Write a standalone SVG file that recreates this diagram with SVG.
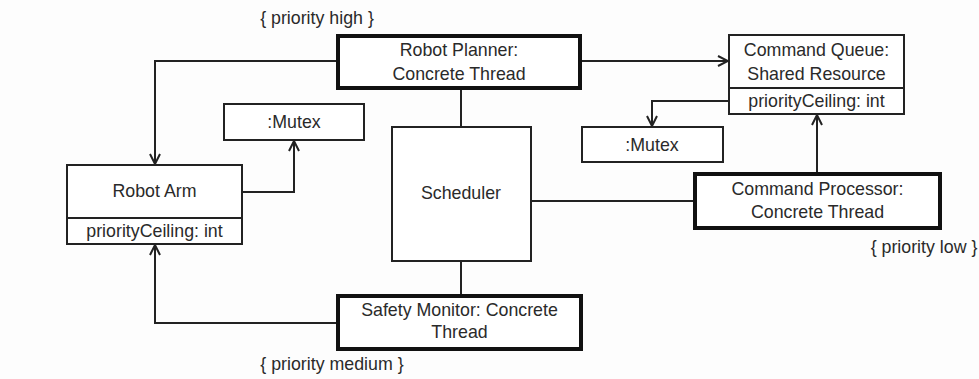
<svg xmlns="http://www.w3.org/2000/svg" width="979" height="379" viewBox="0 0 979 379">
<defs>
<style>
text{font-family:"Liberation Sans",Arial,sans-serif;font-size:17.8px;fill:#2a2a2a;text-anchor:middle}
.box{fill:#fff;stroke:#222;stroke-width:2}
.thick{fill:#fff;stroke:#111;stroke-width:4}
.conn{fill:none;stroke:#222;stroke-width:2}
</style>
<marker id="arr" viewBox="0 0 12 12" refX="11" refY="6" markerWidth="12" markerHeight="12" markerUnits="userSpaceOnUse" orient="auto">
<path d="M1,1 L11,6 L1,11" fill="none" stroke="#222" stroke-width="2"/>
</marker>
</defs>
<rect width="979" height="379" fill="#fdfdfd"/>
<g id="connectors">
<path class="conn" d="M338,61 H155 V164" marker-end="url(#arr)"/>
<path class="conn" d="M580,61 H728" marker-end="url(#arr)"/>
<path class="conn" d="M461,88 V127"/>
<path class="conn" d="M461,261 V296"/>
<path class="conn" d="M242,192 H294 V141" marker-end="url(#arr)"/>
<path class="conn" d="M338,323 H155 V245" marker-end="url(#arr)"/>
<path class="conn" d="M729,101 H652 V126" marker-end="url(#arr)"/>
<path class="conn" d="M817,174 V115" marker-end="url(#arr)"/>
<path class="conn" d="M531,201 H695"/>
</g>
<g id="robot-planner">
<rect class="thick" x="338" y="36" width="242" height="52"/>
<text x="459" y="56">Robot Planner:</text>
<text x="459" y="80">Concrete Thread</text>
</g>
<g id="command-queue">
<rect class="box" x="729" y="35" width="175" height="79"/>
<line x1="729" y1="88" x2="904" y2="88" stroke="#222" stroke-width="2"/>
<text x="816.5" y="56">Command Queue:</text>
<text x="816.5" y="80">Shared Resource</text>
<text x="816.5" y="107">priorityCeiling: int</text>
</g>
<g id="mutex-left">
<rect class="box" x="224" y="104" width="140" height="36"/>
<text x="294" y="128">:Mutex</text>
</g>
<g id="mutex-right">
<rect class="box" x="582" y="127" width="141" height="35"/>
<text x="652" y="151">:Mutex</text>
</g>
<g id="robot-arm">
<rect class="box" x="67" y="165" width="175" height="79"/>
<line x1="67" y1="218" x2="242" y2="218" stroke="#222" stroke-width="2"/>
<text x="154.5" y="197">Robot Arm</text>
<text x="154.5" y="237">priorityCeiling: int</text>
</g>
<g id="scheduler">
<rect class="box" x="392" y="127" width="139" height="134"/>
<text x="461" y="199">Scheduler</text>
</g>
<g id="command-processor">
<rect class="thick" x="695" y="174" width="245" height="54"/>
<text x="817.5" y="195">Command Processor:</text>
<text x="817.5" y="218">Concrete Thread</text>
</g>
<g id="safety-monitor">
<rect class="thick" x="338" y="296" width="243" height="53"/>
<text x="459.5" y="316">Safety Monitor: Concrete</text>
<text x="459.5" y="338">Thread</text>
</g>
<text x="317" y="24">{ priority high }</text>
<text x="924" y="253">{ priority low }</text>
<text x="332" y="370">{ priority medium }</text>
</svg>
